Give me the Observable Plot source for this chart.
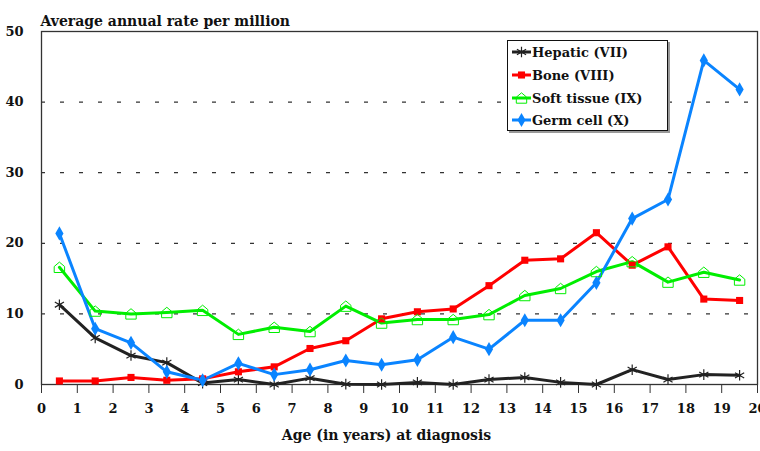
<!DOCTYPE html>
<html>
<head>
<meta charset="utf-8">
<script src="https://cdn.jsdelivr.net/npm/d3@7"></script>
<script src="https://cdn.jsdelivr.net/npm/@observablehq/plot@0.6"></script>
<style>
  html, body { margin: 0; padding: 0; background: #fff; }
  #wrap { position: relative; width: 760px; height: 451px; }
  #legend {
    position: absolute; left: 507px; top: 40px; width: 159px; height: 89px;
    border: 1px solid #111; background: #fff; box-shadow: 2px 2px 0 #999;
    font-family: "DejaVu Serif", serif; font-weight: bold; font-size: 13px; color: #111;
  }
  #legend .row { position: absolute; left: 3px; display: flex; align-items: center; white-space: nowrap; }
  #legend svg { margin-right: 1px; }
</style>
</head>
<body>
<div id="wrap"><div id="chart"></div><div id="legend"></div></div>
<script>
const ages = [0.5,1.5,2.5,3.5,4.5,5.5,6.5,7.5,8.5,9.5,10.5,11.5,12.5,13.5,14.5,15.5,16.5,17.5,18.5,19.5];
const hepatic    = [11.3,6.6,4.1,3.1,0.2,0.7,0.0,0.9,0.05,0.0,0.3,0.0,0.7,1.0,0.3,0.0,2.1,0.7,1.4,1.3];
const bone       = [0.5,0.5,1.0,0.6,0.8,1.8,2.5,5.1,6.2,9.3,10.3,10.7,14.0,17.6,17.8,21.5,16.9,19.5,12.1,11.9];
const softTissue = [16.6,10.4,10.0,10.2,10.5,7.1,8.1,7.5,11.1,8.7,9.2,9.2,9.9,12.6,13.6,16.0,17.4,14.5,15.9,14.8];
const germCell   = [21.4,7.9,5.9,1.8,0.6,3.0,1.4,2.1,3.4,2.8,3.5,6.7,5.0,9.1,9.1,14.4,23.5,26.2,45.9,41.8];
const seriesNames = ["Hepatic (VII)","Bone (VIII)","Soft tissue (IX)","Germ cell (X)"];
const seriesColors = ["#222222","#ff0000","#00ee00","#0a84ff"];
const xTicks = [0,1,2,3,4,5,6,7,8,9,10,11,12,13,14,15,16,17,18,19,20];
const yTicks = [0,10,20,30,40,50];
const gridValues = [10,20,30,40];
const yTitle = "Average annual rate per million";
const xTitle = "Age (in years) at diagnosis";

const house = {
  draw(ctx, size) {
    const s = Math.sqrt(size / Math.PI);
    ctx.moveTo(-s, s);
    ctx.lineTo(s, s);
    ctx.lineTo(s, -s * 0.15);
    ctx.lineTo(0, -s);
    ctx.lineTo(-s, -s * 0.15);
    ctx.closePath();
  }
};

const seriesValues = [hepatic, bone, softTissue, germCell];
const rows = seriesValues.map(vals => ages.map((a, i) => ({age: a, value: vals[i]})));

const symbolSpecs = [
  {symbol: "asterisk", r: 5, fill: "none", stroke: seriesColors[0], strokeWidth: 1.2},
  {symbol: "square", r: 4, fill: seriesColors[1], stroke: "none"},
  {symbol: house, r: 5.2, fill: "none", stroke: seriesColors[2], strokeWidth: 1},
  {symbol: "diamond", r: 4.3, fill: seriesColors[3], stroke: "none"}
];

const marks = [
  Plot.ruleY(gridValues, {stroke: "#333", strokeWidth: 1.2, strokeDasharray: "4,15"}),
  Plot.axisX({ticks: xTicks, tickSize: 9, tickPadding: 10, label: null, tickFormat: d => String(d), stroke: "#333"}),
  Plot.axisY({ticks: yTicks, tickSize: 0, tickPadding: 18, label: null, tickFormat: d => String(d)}),
  Plot.frame({stroke: "#333", strokeWidth: 1.3})
];
rows.forEach((data, k) => {
  marks.push(Plot.line(data, {x: "age", y: "value", stroke: seriesColors[k], strokeWidth: 3}));
});
rows.forEach((data, k) => {
  marks.push(Plot.dot(data, {x: "age", y: "value", ...symbolSpecs[k]}));
});
marks.push(Plot.text([yTitle], {frameAnchor: "top-left", dy: -15, dx: -1, textAnchor: "start", fontSize: 14, fill: "#111"}));
marks.push(Plot.text([xTitle], {frameAnchor: "bottom", dy: 55, dx: -13, fontSize: 14, fill: "#111"}));

const chart = Plot.plot({
  width: 760,
  height: 451,
  marginLeft: 41,
  marginRight: 3,
  marginTop: 31,
  marginBottom: 67,
  x: {domain: [0, 20]},
  y: {domain: [0, 50]},
  style: {fontFamily: "DejaVu Serif, serif", fontWeight: "bold", fontSize: "13px", color: "#111", background: "#fff", overflow: "visible"},
  marks
});
document.getElementById("chart").appendChild(chart);

// Legend
const legend = d3.select("#legend");
const rowTops = [1, 24, 47, 69];
seriesNames.forEach((name, k) => {
  const row = legend.append("div").attr("class", "row").style("top", rowTops[k] + "px").style("height", "20px");
  const sw = row.append("svg").attr("width", 20).attr("height", 20);
  sw.append("line").attr("x1", 1).attr("x2", 20).attr("y1", 10).attr("y2", 10)
    .attr("stroke", seriesColors[k]).attr("stroke-width", 3);
  const spec = symbolSpecs[k];
  let path;
  if (k === 0) path = d3.symbol(d3.symbolAsterisk, Math.PI * 25)();
  else if (k === 1) path = d3.symbol(d3.symbolSquare, Math.PI * 16)();
  else if (k === 2) path = d3.symbol(house, Math.PI * 27)();
  else path = d3.symbol(d3.symbolDiamond, Math.PI * 18)();
  sw.append("path").attr("d", path).attr("transform", "translate(10.5,10)")
    .attr("fill", spec.fill).attr("stroke", spec.stroke).attr("stroke-width", spec.strokeWidth || 0);
  row.append("span").text(name);
});
</script>
</body>
</html>
